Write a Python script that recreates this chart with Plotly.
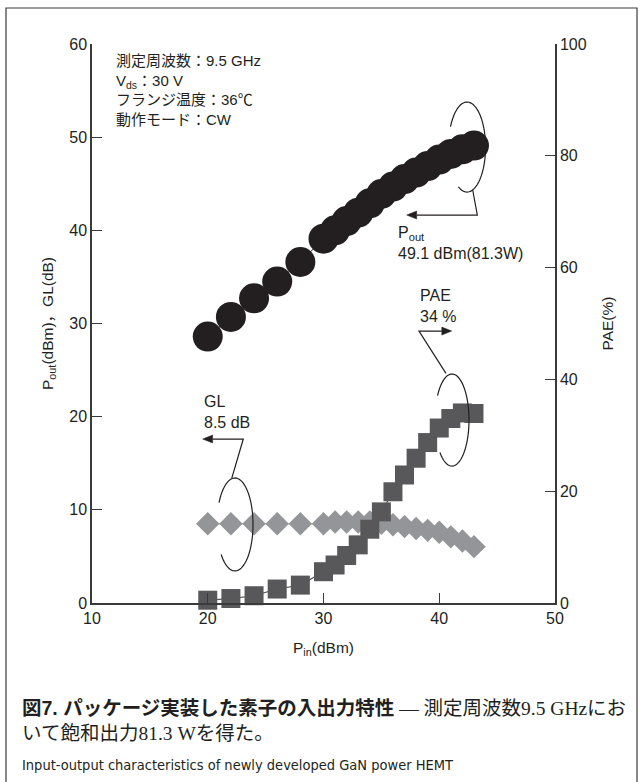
import numpy as np
import plotly.graph_objects as go

# Input power sweep (dBm)
pin = [20, 22, 24, 26, 28, 30, 31, 32, 33, 34, 35, 36, 37, 38, 39, 40, 41, 42, 43]
# Output power (dBm)
pout = [28.6, 30.7, 32.7, 34.5, 36.6, 39.1, 40.0, 41.0, 41.9, 42.9, 43.9, 44.7,
        45.5, 46.2, 46.9, 47.6, 48.2, 48.7, 49.1]
# Linear gain (dB)
gl = [8.5, 8.5, 8.5, 8.5, 8.5, 8.5, 8.7, 8.7, 8.7, 8.7, 8.55, 8.4,
      8.2, 8.0, 7.8, 7.6, 7.1, 6.65, 6.05]
# Power-added efficiency (%)
pae = [0.5, 0.8, 1.3, 2.5, 3.2, 5.6, 6.8, 8.5, 10.4, 13.2, 16.3, 19.9,
       22.9, 25.9, 28.7, 31.3, 33.0, 34.0, 33.9]

x_ticks = [10, 20, 30, 40, 50]
y_ticks = [0, 10, 20, 30, 40, 50, 60]
y2_ticks = [0, 20, 40, 60, 80, 100]

INK = "#231f20"
SANS = "Liberation Sans, Arial, Noto Sans CJK JP, sans-serif"
JP = "Liberation Sans, Noto Sans CJK JP, sans-serif"

fig = go.Figure()

fig.add_trace(go.Scatter(
    x=pin, y=pout, mode="lines+markers", cliponaxis=False,
    line=dict(color=INK, width=1),
    marker=dict(symbol="circle", size=30, color=INK),
    showlegend=False))

fig.add_trace(go.Scatter(
    x=pin, y=gl, mode="lines+markers", cliponaxis=False,
    line=dict(color="#939598", width=1),
    marker=dict(symbol="diamond", size=18, color="#939598"),
    showlegend=False))

fig.add_trace(go.Scatter(
    x=pin, y=pae, yaxis="y2", mode="lines+markers", cliponaxis=False,
    line=dict(color="#58585a", width=1.2),
    marker=dict(symbol="square", size=19, color="#58585a"),
    showlegend=False))


def arc_path(cx, cy, rx, ry, a0, a1, n=80):
    t = np.radians(np.linspace(a0, a1, n))
    xs = cx + rx * np.cos(t)
    ys = cy + ry * np.sin(t)
    return "M " + " L ".join(f"{x:.4f},{y:.4f}" for x, y in zip(xs, ys))


def poly_path(pts, close=False):
    p = "M " + " L ".join(f"{x:.4f},{y:.4f}" for x, y in pts)
    return p + (" Z" if close else "")


shapes = []
# open ellipses marking each curve
ellipses = [
    (42.40, 48.94, 1.60, 4.83, 153, -118),
    (41.10, 19.64, 1.47, 4.94, 148, -135),
    (22.35, 8.43, 1.56, 4.99, 152, -140),
]
for cx, cy, rx, ry, a0, a1 in ellipses:
    shapes.append(dict(type="path", xref="x", yref="y",
                       path=arc_path(cx, cy, rx, ry, a0, a1),
                       line=dict(color=INK, width=1.2)))

# leader lines ending in arrowheads pointing at the matching axis
HEAD_L, HEAD_W = 0.86, 0.43
leaders = [
    ([(42.89, 44.33), (43.29, 41.64)], (37.19, 41.64), -1),
    ([(40.58, 24.65), (38.25, 29.19)], (41.08, 29.19), 1),
    ([(22.07, 13.38), (23.07, 17.60)], (19.56, 17.60), -1),
]
for pts, (tx, ty), d in leaders:
    bx = tx - d * HEAD_L
    shapes.append(dict(type="path", xref="x", yref="y",
                       path=poly_path(pts + [(bx, ty)]),
                       line=dict(color=INK, width=1.2)))
    shapes.append(dict(type="path", xref="x", yref="y",
                       path=poly_path([(tx, ty), (bx, ty + HEAD_W), (bx, ty - HEAD_W)], close=True),
                       fillcolor=INK, line=dict(color=INK, width=0.5)))

# outer frame (left, top, right edges)
fx0, fx1 = (6 - 92) / 463, (637 - 92) / 463
fy_top, fy_bot = (603 - 8) / 559, (603 - 800) / 559
shapes.append(dict(type="path", xref="paper", yref="paper",
                   path=f"M {fx0},{fy_bot} L {fx0},{fy_top} L {fx1},{fy_top} L {fx1},{fy_bot}",
                   line=dict(color="#3a3a3a", width=1.2)))

label_font = dict(family=SANS, size=16, color=INK)
annotations = [
    dict(x=36.26, y=38.64, xref="x", yref="y", xanchor="left", yanchor="middle",
         align="left", showarrow=False, font=label_font,
         text="P<sub>out</sub><br>49.1 dBm(81.3W)"),
    dict(x=38.16, y=31.88, xref="x", yref="y", xanchor="left", yanchor="middle",
         align="left", showarrow=False, font=label_font,
         text="PAE<br>34 %"),
    dict(x=19.50, y=20.50, xref="x", yref="y", xanchor="left", yanchor="middle",
         align="left", showarrow=False, font=label_font,
         text="GL<br>8.5 dB"),
    dict(x=11.90, y=59.4, xref="x", yref="y", xanchor="left", yanchor="top",
         align="left", showarrow=False,
         font=dict(family=JP, size=15, color=INK),
         text="測定周波数：9.5 GHz<br>V<sub>ds</sub>：30 V<br>フランジ温度：36℃<br>動作モード：CW"),
]


def py(p):
    return (603 - p) / 559


CAP_X = (20 - 92) / 463
annotations += [
    dict(x=CAP_X, y=py(708), xref="paper", yref="paper",
         xanchor="left", yanchor="middle", showarrow=False, align="left",
         font=dict(family="Liberation Serif, Noto Sans CJK JP, serif", size=19.5, color=INK),
         text="<b style='font-family:Liberation Sans, Noto Sans CJK JP'>図7. パッケージ実装した素子の入出力特性</b>"
              " — 測定周波数9.5 GHzにお"),
    dict(x=CAP_X, y=py(733), xref="paper", yref="paper",
         xanchor="left", yanchor="middle", showarrow=False, align="left",
         font=dict(family="Liberation Serif, Noto Sans CJK JP, serif", size=19.5, color=INK),
         text="いて飽和出力81.3 Wを得た。"),
    dict(x=CAP_X, y=py(765), xref="paper", yref="paper",
         xanchor="left", yanchor="middle", showarrow=False, align="left",
         font=dict(family="Liberation Sans Narrow, DejaVu Sans Condensed, sans-serif",
                   size=14.5, color=INK),
         text="Input-output characteristics of newly developed GaN power HEMT"),
]

axis_common = dict(showline=True, linecolor="#3a3a3a", linewidth=1.5,
                   ticks="inside", ticklen=10, tickwidth=1.2, tickcolor="#3a3a3a",
                   showgrid=False, zeroline=False,
                   tickfont=dict(family=SANS, size=16, color=INK))

fig.update_layout(
    width=643, height=782,
    margin=dict(l=92, r=88, t=44, b=179),
    paper_bgcolor="white", plot_bgcolor="white",
    xaxis=dict(range=[10, 50], tickvals=x_ticks, **axis_common,
               title=dict(text="P<sub>in</sub>(dBm)", standoff=16,
                          font=dict(family=SANS, size=15.5, color=INK))),
    yaxis=dict(range=[0, 60], tickvals=y_ticks, **axis_common,
               title=dict(text="P<sub>out</sub>(dBm)，GL(dB)", standoff=12,
                          font=dict(family=JP, size=15.5, color=INK))),
    yaxis2=dict(range=[0, 100], tickvals=y2_ticks, overlaying="y", side="right",
                **axis_common,
                title=dict(text="PAE(%)", standoff=16,
                           font=dict(family=SANS, size=15.5, color=INK))),
    shapes=shapes,
    annotations=annotations,
)

fig.write_html("out.html")
